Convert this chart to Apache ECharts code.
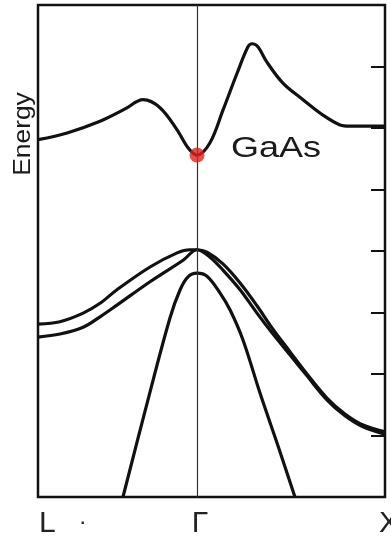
<!DOCTYPE html>
<html>
<head>
<meta charset="utf-8">
<script src="https://cdn.jsdelivr.net/npm/echarts@6/dist/echarts.min.js"></script>
<style>
  html, body { margin: 0; padding: 0; background: #fff; }
  #chart { width: 391px; height: 537px; }
</style>
</head>
<body>
<div id="chart"></div>
<script>
// Band structure of GaAs along L – Γ – X.
// k in units of 2π/a measured from Γ (L side negative), energy in arbitrary units.
const kL = -0.846;
const kX = 1;
const energyMin = 0;
const energyMax = 8;

const conductionBand = [
  [-0.846, 5.81], [-0.691, 5.92], [-0.516, 6.11], [-0.383, 6.31], [-0.287, 6.46],
  [-0.197, 6.33], [-0.106, 5.97], [-0.048, 5.68], [0, 5.56], [0.069, 5.76],
  [0.138, 6.29], [0.213, 6.89], [0.271, 7.32], [0.293, 7.37], [0.324, 7.32],
  [0.372, 7.07], [0.457, 6.73], [0.564, 6.46], [0.670, 6.21], [0.761, 6.05],
  [0.814, 6.03], [1.0, 6.03]
];

const heavyHoleBand = [
  [-0.846, 2.81], [-0.729, 2.85], [-0.606, 2.99], [-0.516, 3.15], [-0.426, 3.37],
  [-0.250, 3.74], [-0.106, 3.97], [-0.037, 4.02], [0, 4.02], [0.053, 3.98],
  [0.138, 3.79], [0.229, 3.48], [0.319, 3.11], [0.399, 2.75], [0.495, 2.36],
  [0.585, 2.00], [0.691, 1.61], [0.787, 1.35], [0.883, 1.17], [1.0, 1.06]
];

const lightHoleBand = [
  [-0.846, 2.60], [-0.729, 2.65], [-0.606, 2.76], [-0.516, 2.93], [-0.426, 3.12],
  [-0.250, 3.50], [-0.074, 3.85], [0, 4.02], [0.069, 3.90], [0.138, 3.69],
  [0.229, 3.37], [0.319, 2.99], [0.399, 2.67], [0.495, 2.31], [0.585, 1.97],
  [0.691, 1.58], [0.787, 1.32], [0.883, 1.14], [1.0, 1.02]
];

const splitOffBand = [
  [-0.394, 0], [-0.261, 1.58], [-0.144, 2.91], [-0.090, 3.37], [-0.048, 3.58],
  [0, 3.64], [0.053, 3.59], [0.122, 3.32], [0.176, 3.04], [0.245, 2.55],
  [0.335, 1.69], [0.431, 0.83], [0.521, 0]
];

// conduction-band minimum (direct gap at Γ)
const gammaMinimum = [0, 5.56];

const symmetryNames = ['L', '·', 'Γ', 'X'];
const symmetryK = [-0.846, -0.606, 0, 1];

const chart = echarts.init(document.getElementById('chart'), null, { renderer: 'canvas' });

function bandSeries(data) {
  return {
    type: 'line',
    data: data,
    smooth: 0.35,
    showSymbol: false,
    symbol: 'none',
    lineStyle: { color: '#111', width: 3.2 },
    z: 3
  };
}

chart.setOption({
  animation: false,
  backgroundColor: '#fff',
  grid: {
    left: 38, right: 6, top: 5, bottom: 40,
    show: true,
    borderColor: '#111',
    borderWidth: 2.5,
    backgroundColor: 'transparent'
  },
  xAxis: {
    type: 'value',
    min: kL,
    max: kX,
    axisLine: { show: false, onZero: false },
    axisTick: { show: false },
    axisLabel: { show: false },
    splitLine: { show: false }
  },
  yAxis: {
    type: 'value',
    position: 'right',
    min: energyMin,
    max: energyMax,
    interval: 1,
    axisLine: { show: false, onZero: false },
    axisTick: { show: true, inside: true, length: 14, lineStyle: { color: '#111', width: 2 } },
    axisLabel: { show: false },
    splitLine: { show: false }
  },
  series: [
    Object.assign(bandSeries(conductionBand), {
      markLine: {
        silent: true,
        symbol: 'none',
        label: { show: false },
        lineStyle: { color: '#333', width: 1.2, type: 'solid' },
        data: [{ xAxis: 0 }]
      }
    }),
    bandSeries(heavyHoleBand),
    bandSeries(lightHoleBand),
    bandSeries(splitOffBand),
    {
      type: 'scatter',
      data: [gammaMinimum],
      symbol: 'circle',
      symbolSize: 15,
      itemStyle: { color: '#e3211c' },
      z: 5
    }
  ]
});

// texts: symmetry-point labels under the frame, material name and energy axis title
const labelAlign = ['left', 'center', 'center', 'center'];
const labelShift = [1, 0, 3, 4];
const graphics = symmetryNames.map(function (name, i) {
  const p = chart.convertToPixel({ gridIndex: 0 }, [symmetryK[i], energyMin]);
  return {
    type: 'text',
    x: p[0] + labelShift[i],
    y: 524,
    style: {
      text: name,
      fill: '#222',
      font: name === '·' ? 'bold 16px "Liberation Sans", Arial, sans-serif'
                          : '30px "Liberation Sans", Arial, sans-serif',
      textAlign: labelAlign[i],
      textVerticalAlign: 'middle'
    }
  };
});

graphics.push({
  type: 'text',
  x: 231,
  y: 149,
  scaleX: 1.2,
  style: {
    text: 'GaAs',
    fill: '#1a1a1a',
    font: '30px "Liberation Sans", Arial, sans-serif',
    textAlign: 'left',
    textVerticalAlign: 'middle'
  }
});

graphics.push({
  type: 'text',
  x: 23,
  y: 134,
  rotation: Math.PI / 2,
  scaleX: 1.1,
  style: {
    text: 'Energy',
    fill: '#1a1a1a',
    font: '24px "Liberation Sans", Arial, sans-serif',
    textAlign: 'center',
    textVerticalAlign: 'middle'
  }
});

chart.setOption({ graphic: graphics });
</script>
</body>
</html>
